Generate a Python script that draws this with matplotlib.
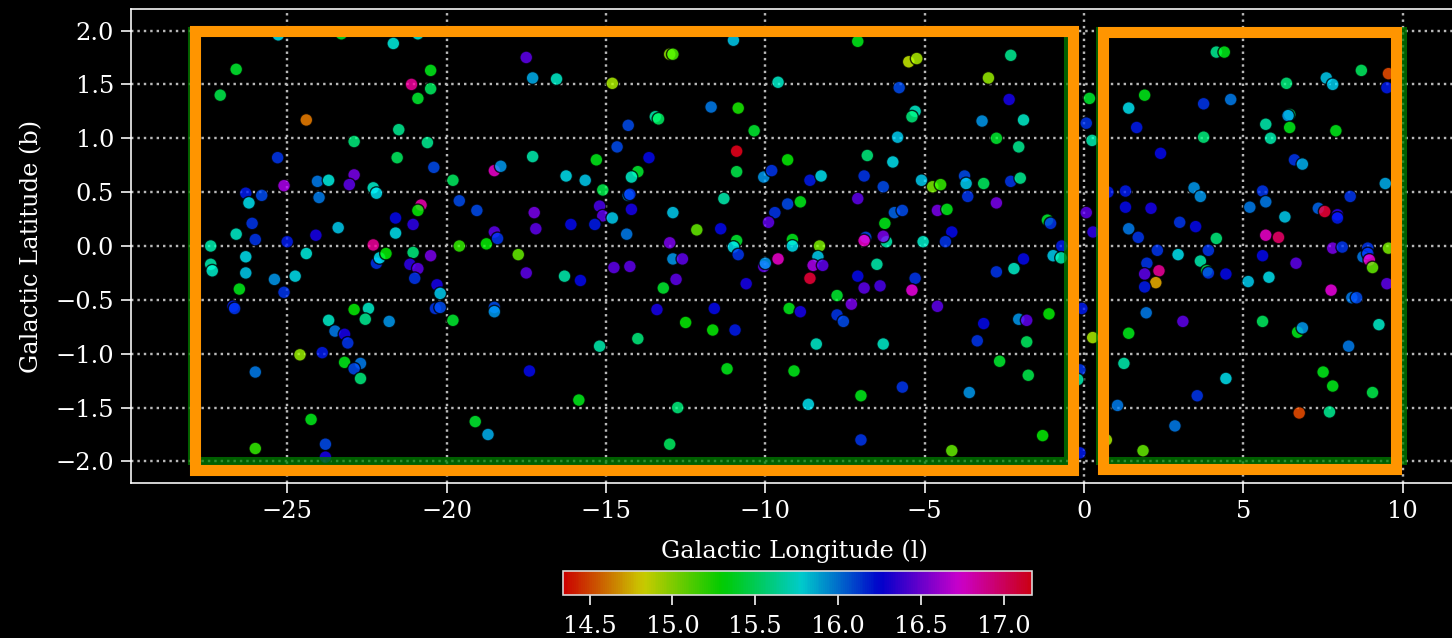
import matplotlib
matplotlib.use('Agg')
import matplotlib.pyplot as plt
from matplotlib.patches import Rectangle
from matplotlib.colors import Normalize

# galactic longitude / latitude and colour value of each source
l = [-25.28, -23.3, -21.67, -20.9, -26.6, -27.1, -21.1, -20.5, -20.5, -20.9,
     -24.4, -21.5, -22.9, -20.6, -21.55, -25.3, -20.4, -25.1, -22.9, -23.05,
     -24.05, -23.7, -24.0, -26.3, -25.8, -26.2, -22.3, -22.2, -19.8, -19.6,
     -20.8, -20.9, -19.05, -18.5, -18.3, -26.1, -26.6, -26.0, -25.0, -24.1,
     -23.4, -21.6, -21.6, -21.05, -22.3, -19.6, -18.75, -18.5, -18.4, -27.4,
     -27.4, -27.35, -26.3, -26.3, -26.5, -26.7, -26.65, -26.0, -25.4, -25.1,
     -24.4, -24.75, -24.6, -23.9, -24.25, -26.0, -23.8, -23.8, -23.7, -23.5,
     -23.2, -23.1, -22.9, -23.2, -22.7, -22.9, -22.7, -22.45, -22.55, -21.8,
     -22.2, -22.1, -21.9, -21.05, -21.15, -20.9, -21.0, -20.5, -20.3, -20.2,
     -20.35, -20.2, -19.8, -19.1, -18.7, -18.5, -18.5,
     -17.5, -17.3, -16.55, -14.8, -13.0, -12.9, -11.0, -7.1, -5.5, -5.25,
     -3.0, -9.6, -11.7, -10.85, -13.45, -13.35, -14.3, -5.8, -5.3, -5.4,
     -3.2, -10.35, -5.85, -2.75, -10.9, -14.65, -13.65, -17.3, -15.3, -10.9,
     -9.3, -6.8, -6.0, -14.0, -14.2, -16.25, -15.65, -10.05, -9.8, -8.6,
     -8.25, -6.9, -6.3, -5.1, -4.75, -4.5, -3.75, -3.7, -3.65, -3.15,
     -14.3, -14.25, -15.1, -15.2, -15.1, -14.8, -14.2, -12.9, -11.3, -17.25,
     -17.2, -16.1, -15.35, -14.35, -12.15, -11.4, -10.9, -9.7, -9.9, -9.3,
     -8.9, -7.1, -6.25, -5.95, -5.7, -4.6, -4.3, -4.15, -4.35, -2.75,
     -5.05, -6.2, -6.3, -6.85, -6.9, -8.3, -9.15, -9.15, -11.0, -13.0,
     -17.75, -17.5, -16.3, -15.8, -14.75, -14.25, -12.9, -12.6, -12.8, -13.2,
     -10.85, -10.6, -10.05, -10.0, -9.6, -8.35, -8.5, -8.2, -8.6, -7.1,
     -6.9, -6.4, -6.5, -5.3, -5.4, -4.6, -2.75, -3.15, -3.35, -2.65,
     -13.4, -11.6, -10.95, -12.5, -11.65, -14.0, -15.2, -17.4, -15.85, -12.75,
     -13.0, -11.2, -9.25, -8.9, -7.75, -7.3, -7.75, -7.55, -8.4, -6.3,
     -9.1, -7.0, -5.7, -8.65, -3.6, -7.0, -4.15,
     -2.3, -2.35, -1.9, -2.05, -2.3, -2.0, -1.15, -1.05, -0.7, 0.17,
     0.07, 0.25, 0.07, 0.28, 0.75, 4.15, 4.4, 8.7, 9.55, 9.5,
     7.6, 7.8, 6.35, 1.9, 1.4, 3.75, 4.6, 1.65, 3.75, 5.7,
     5.85, 6.45, 6.4, 6.45, 7.9, 2.4, 6.6, 6.85, 9.45, 3.45,
     3.65, 1.3, 1.3, 2.1, 5.6, 5.7, 5.2, 8.35, 7.35, 7.55,
     7.95, 7.95, 6.3, 3.0, 3.5, 1.4, 1.7, 4.15, 5.7, 6.1,
     7.8, 8.1, 8.9, 9.55, 2.3, 3.9,
     -0.97, -0.72, -1.9, -2.2, -2.05, -1.8, -1.1, -1.8, -1.75, -1.3,
     -0.07, 0.27, -0.13, -0.2, -0.13, 2.95, 3.65, 1.97, 1.9, 2.35,
     2.25, 1.9, 3.85, 3.9, 4.45, 5.15, 5.8, 5.6, 6.65, 8.75,
     8.9, 8.95, 9.05, 9.5, 7.75, 8.4, 8.55, 9.25, 1.95, 3.1,
     1.4, 5.6, 6.7, 6.85, 8.3, 1.25, 4.45, 3.55, 1.05, 7.5,
     7.8, 9.05, 6.75, 7.7, 2.85, 0.7, 1.85]

b = [1.96, 1.97, 1.88, 1.97, 1.64, 1.40, 1.50, 1.63, 1.46, 1.37,
     1.17, 1.08, 0.97, 0.96, 0.82, 0.82, 0.73, 0.56, 0.66, 0.57,
     0.60, 0.61, 0.45, 0.49, 0.47, 0.40, 0.54, 0.49, 0.61, 0.42,
     0.38, 0.33, 0.33, 0.70, 0.74, 0.21, 0.11, 0.06, 0.04, 0.10,
     0.17, 0.26, 0.12, 0.20, 0.01, 0.0, 0.02, 0.13, 0.07, 0.0,
     -0.17, -0.23, -0.10, -0.25, -0.40, -0.56, -0.58, -1.17, -0.31, -0.43,
     -0.07, -0.28, -1.01, -0.99, -1.61, -1.88, -1.84, -1.96, -0.69, -0.79,
     -0.82, -0.90, -0.59, -1.08, -1.09, -1.14, -1.23, -0.58, -0.68, -0.70,
     -0.16, -0.11, -0.07, -0.06, -0.17, -0.21, -0.30, -0.09, -0.36, -0.44,
     -0.58, -0.57, -0.69, -1.63, -1.75, -0.57, -0.61,
     1.75, 1.56, 1.55, 1.51, 1.78, 1.78, 1.91, 1.90, 1.71, 1.74,
     1.56, 1.52, 1.29, 1.28, 1.20, 1.18, 1.12, 1.47, 1.25, 1.20,
     1.16, 1.07, 1.01, 1.00, 0.88, 0.92, 0.82, 0.83, 0.80, 0.69,
     0.80, 0.84, 0.78, 0.69, 0.64, 0.65, 0.61, 0.64, 0.70, 0.61,
     0.65, 0.65, 0.55, 0.61, 0.55, 0.57, 0.65, 0.58, 0.46, 0.58,
     0.47, 0.48, 0.52, 0.37, 0.28, 0.26, 0.34, 0.31, 0.44, 0.31,
     0.16, 0.20, 0.20, 0.11, 0.15, 0.16, 0.05, 0.31, 0.22, 0.39,
     0.41, 0.44, 0.21, 0.31, 0.33, 0.33, 0.34, 0.13, 0.04, 0.40,
     0.04, 0.04, 0.09, 0.08, 0.05, 0.0, 0.06, 0.0, -0.01, 0.03,
     -0.08, -0.25, -0.28, -0.32, -0.20, -0.19, -0.12, -0.12, -0.31, -0.39,
     -0.08, -0.35, -0.19, -0.16, -0.12, -0.10, -0.18, -0.18, -0.30, -0.28,
     -0.39, -0.37, -0.17, -0.30, -0.41, -0.56, -0.24, -0.72, -0.88, -1.07,
     -0.59, -0.58, -0.78, -0.71, -0.78, -0.86, -0.93, -1.16, -1.43, -1.50,
     -1.84, -1.14, -0.58, -0.61, -0.46, -0.54, -0.64, -0.70, -0.91, -0.91,
     -1.16, -1.39, -1.31, -1.47, -1.36, -1.80, -1.90,
     1.77, 1.36, 1.17, 0.92, 0.60, 0.63, 0.24, 0.21, 0.0, 1.37,
     1.14, 0.98, 0.31, 0.13, 0.50, 1.80, 1.80, 1.63, 1.60, 1.47,
     1.56, 1.50, 1.51, 1.40, 1.28, 1.32, 1.36, 1.10, 1.01, 1.13,
     1.00, 1.22, 1.21, 1.10, 1.07, 0.86, 0.80, 0.76, 0.58, 0.54,
     0.46, 0.51, 0.36, 0.35, 0.51, 0.41, 0.36, 0.46, 0.35, 0.32,
     0.29, 0.26, 0.27, 0.22, 0.18, 0.16, 0.08, 0.07, 0.10, 0.08,
     -0.02, -0.01, -0.02, -0.02, -0.04, -0.04,
     -0.09, -0.11, -0.12, -0.21, -0.68, -0.69, -0.63, -0.89, -1.20, -1.76,
     -0.58, -0.85, -1.15, -1.24, -1.92, -0.08, -0.14, -0.16, -0.26, -0.23,
     -0.34, -0.38, -0.23, -0.25, -0.26, -0.33, -0.29, -0.09, -0.16, -0.10,
     -0.07, -0.13, -0.20, -0.35, -0.41, -0.48, -0.48, -0.73, -0.62, -0.70,
     -0.81, -0.70, -0.80, -0.76, -0.93, -1.09, -1.23, -1.39, -1.48, -1.17,
     -1.30, -1.36, -1.55, -1.54, -1.67, -1.80, -1.90]

mag = [15.8, 15.4, 15.75, 15.75, 15.4, 15.45, 16.9, 15.35, 15.5, 15.4,
       14.6, 15.6, 15.55, 15.6, 15.5, 16.15, 16.1, 16.6, 16.5, 16.45,
       16.0, 15.75, 16.0, 16.2, 16.1, 15.8, 15.7, 15.8, 15.5, 16.1,
       16.85, 15.3, 16.1, 16.8, 15.95, 16.15, 15.7, 16.15, 16.2, 16.3,
       15.85, 16.25, 15.8, 16.35, 16.9, 15.2, 15.3, 16.45, 16.15, 15.65,
       15.65, 15.7, 15.8, 15.85, 15.35, 16.2, 16.15, 16.0, 15.95, 16.15,
       15.75, 15.8, 15.0, 16.2, 15.35, 15.2, 16.1, 16.3, 15.7, 16.0,
       16.3, 16.15, 15.3, 15.35, 16.0, 16.1, 15.55, 15.7, 15.6, 15.95,
       16.15, 15.8, 15.3, 15.55, 16.35, 16.45, 16.15, 16.5, 16.3, 15.85,
       16.15, 16.1, 15.4, 15.4, 15.9, 16.1, 15.95,
       16.45, 15.9, 15.7, 14.95, 15.0, 15.15, 15.85, 15.35, 14.9, 14.95,
       15.0, 15.7, 16.0, 15.25, 15.65, 15.5, 16.1, 16.1, 15.7, 15.55,
       15.95, 15.4, 15.85, 15.4, 17.15, 16.1, 16.25, 15.65, 15.35, 15.45,
       15.3, 15.55, 15.8, 15.4, 15.7, 15.8, 15.85, 15.95, 16.15, 16.2,
       15.8, 16.15, 16.1, 15.85, 15.05, 15.2, 16.1, 15.85, 16.15, 15.5,
       15.95, 16.15, 15.45, 16.4, 16.45, 15.85, 16.3, 15.85, 15.65, 16.5,
       16.45, 16.25, 16.2, 16.0, 15.1, 16.25, 15.4, 16.15, 16.45, 16.1,
       15.35, 16.45, 15.35, 16.05, 16.1, 16.5, 15.35, 16.25, 16.15, 16.5,
       15.7, 15.65, 16.5, 16.1, 16.8, 15.05, 15.35, 15.8, 15.8, 16.5,
       15.1, 16.45, 15.65, 16.25, 16.45, 16.45, 15.95, 16.45, 16.45, 15.4,
       16.15, 16.3, 16.45, 15.95, 16.8, 15.85, 16.6, 16.45, 17.1, 16.25,
       16.45, 16.4, 15.65, 16.15, 16.75, 16.45, 16.15, 16.25, 16.15, 15.4,
       16.3, 16.25, 16.2, 15.3, 15.3, 15.55, 15.65, 16.25, 15.35, 15.55,
       15.5, 15.35, 15.35, 16.3, 15.4, 16.5, 16.15, 16.1, 15.7, 15.7,
       15.35, 15.35, 16.15, 15.8, 15.95, 16.15, 15.1,
       15.6, 16.3, 15.7, 15.6, 16.15, 15.6, 15.4, 16.15, 16.2, 15.4,
       16.15, 15.65, 16.45, 16.35, 16.2, 15.6, 15.35, 15.5, 14.5, 16.2,
       15.85, 15.85, 15.55, 15.35, 15.8, 16.15, 16.0, 16.2, 15.55, 15.65,
       15.65, 15.55, 15.95, 15.35, 15.35, 16.25, 16.15, 15.9, 15.9, 15.95,
       15.95, 16.2, 16.25, 16.3, 16.15, 16.0, 16.0, 16.15, 16.05, 17.1,
       16.35, 16.2, 15.85, 16.15, 16.25, 16.0, 16.15, 15.55, 16.8, 17.0,
       16.5, 16.15, 16.15, 15.05, 16.15, 16.15,
       15.85, 15.65, 16.25, 15.7, 15.95, 16.45, 15.3, 15.5, 15.45, 15.3,
       16.2, 14.95, 16.15, 15.65, 16.2, 15.8, 15.65, 16.15, 16.45, 16.9,
       14.7, 16.2, 15.45, 16.15, 16.25, 15.85, 15.8, 16.25, 16.45, 16.0,
       16.15, 16.8, 15.1, 16.45, 16.75, 16.0, 16.1, 15.7, 16.0, 16.45,
       15.35, 15.5, 15.35, 15.95, 16.0, 15.65, 15.8, 16.15, 16.0, 15.35,
       15.35, 15.45, 14.5, 15.6, 16.0, 14.95, 15.1]

# regions (l0, b0, l1, b1)
green_boxes = [(-28.0, -2.0, -0.5, 2.0), (0.5, -2.0, 10.0, 2.0)]
orange_boxes = [(-27.9, -2.08, -0.35, 2.0), (0.6, -2.07, 9.8, 1.99)]

plt.rcParams['font.family'] = 'DejaVu Serif'
plt.rcParams['font.size'] = 12

fig = plt.figure(figsize=(1452 / 145, 638 / 145), dpi=145, facecolor='black')
ax = fig.add_axes([131 / 1452, 155 / 638, 1326 / 1452, 474 / 638])
ax.set_facecolor('black')

norm = Normalize(vmin=14.34, vmax=17.17)
sc = ax.scatter(l, b, c=mag, cmap='hsv', norm=norm, s=40, alpha=0.8,
                edgecolors=(0, 0, 0, 0.4), linewidths=0.7, zorder=2)

for l0, b0, l1, b1 in green_boxes:
    ax.add_patch(Rectangle((l0, b0), l1 - l0, b1 - b0, fill=False,
                           edgecolor='green', alpha=0.75, lw=4, zorder=3))
for l0, b0, l1, b1 in orange_boxes:
    ax.add_patch(Rectangle((l0, b0), l1 - l0, b1 - b0, fill=False,
                           edgecolor='#ff9500', lw=5.5, zorder=4))

ax.set_xlim(-29.9, 11.7)
ax.set_ylim(-2.2, 2.2)
ax.set_xticks([-25, -20, -15, -10, -5, 0, 5, 10])
ax.set_yticks([-2.0, -1.5, -1.0, -0.5, 0.0, 0.5, 1.0, 1.5, 2.0])
ax.grid(True, linestyle=':', color='#b8b8b8', lw=1.2, zorder=1)
ax.set_axisbelow(True)

for s in ax.spines.values():
    s.set_color('white')
ax.tick_params(colors='white', labelsize=12, length=5)
ax.set_xlabel('Galactic Longitude (l)', color='white', fontsize=12, labelpad=8)
ax.set_ylabel('Galactic Latitude (b)', color='white', fontsize=12, labelpad=6)

# colour bar (black behind so the alpha darkens it like the points)
cax = fig.add_axes([563 / 1452, 43 / 638, 469 / 1452, 24 / 638])
cax.set_facecolor('black')
cb = fig.colorbar(sc, cax=cax, orientation='horizontal')
cb.set_ticks([14.5, 15.0, 15.5, 16.0, 16.5, 17.0])
cb.outline.set_edgecolor('#dddddd')
cax.tick_params(colors='white', labelsize=12, length=5, pad=5)

fig.savefig('out.png', dpi=145, facecolor='black')
